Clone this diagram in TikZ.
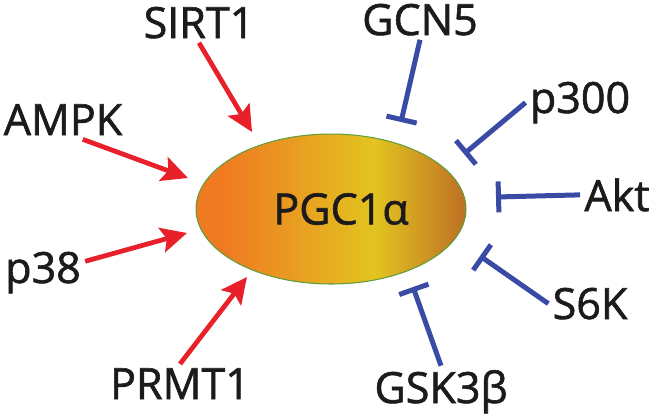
\documentclass[tikz,border=0pt]{standalone}
\usepackage{fontspec}
\setmainfont{Open Sans}
\newfontfamily\lblfont{Open Sans}[FakeBold=1.4]
\usetikzlibrary{arrows.meta,shapes.geometric}

\definecolor{actred}{HTML}{E8202A}
\definecolor{inhblue}{HTML}{3A4BA6}
\definecolor{pgcorange}{HTML}{EF7A22}
\definecolor{pgcyellow}{HTML}{E2C41F}
\definecolor{pgcbrown}{HTML}{BD7024}
\definecolor{pgcgreen}{HTML}{5E9E3C}
\definecolor{labelink}{HTML}{1C1A1A}

\pgfdeclarehorizontalshading{pgcshade}{100bp}{color(0bp)=(pgcorange); color(30bp)=(pgcorange); color(58bp)=(pgcyellow); color(75bp)=(pgcbrown); color(100bp)=(pgcbrown)}

\tikzset{
  lbl/.style={text=labelink, font=\lblfont\fontsize{24.5}{30}\selectfont, inner sep=0.08cm, anchor=base},
  act/.style={actred, line width=0.095cm, -{Stealth[length=0.52cm,width=0.5cm,inset=0.1cm]}},
  inh/.style={inhblue, line width=0.1cm, -{Bar[width=0.62cm]}},
}

\begin{document}
\begin{tikzpicture}[x=0.02cm,y=-0.02cm]
    \useasboundingbox (0,0) rectangle (652,417);
    \node[ellipse, draw=pgcgreen, line width=0.6pt, shading=pgcshade, minimum width=5.4cm, minimum height=3cm, inner sep=0pt, text=labelink, font=\lblfont\fontsize{24.5}{30}\selectfont] (pgc) at (331,209) {\hspace{0.4cm}PGC1α}; %中心

    % activators
    \node[lbl] (sirt1) at (199,38) {SIRT1};
    \node[lbl] (ampk) at (63,135) {AMPK};
    \node[lbl] (p38) at (43,283) {p38};
    \node[lbl] (prmt1) at (180,399) {PRMT1};
    % inhibitors
    \node[lbl] (gcn5) at (420,35) {GCN5};
    \node[lbl] (p300) at (580,113) {p300};
    \node[lbl] (akt) at (617,211) {Akt};
    \node[lbl] (s6k) at (590,319) {S6K};
    \node[lbl] (gsk3b) at (441,403) {GSK3β};

    \coordinate (t-sirt1) at (252,132);
    \coordinate (t-ampk) at (188,178);
    \coordinate (t-p38) at (187,233);
    \coordinate (t-prmt1) at (247,277);
    \draw[act] (sirt1.south) -- (t-sirt1);
    \draw[act] (ampk.-45) -- (t-ampk);
    \draw[act] (p38.15) -- (t-p38);
    \draw[act] (prmt1.north) -- (t-prmt1);

    \coordinate (t-gcn5) at (401,122);
    \coordinate (t-p300) at (464,154);
    \coordinate (t-akt) at (496,197);
    \coordinate (t-s6k) at (480,256);
    \coordinate (t-gsk3b) at (413,287);
    \draw[inh] (gcn5.south) -- (t-gcn5);
    \draw[inh] (p300.west) -- (t-p300);
    \draw[inh] (akt.west) -- (t-akt);
    \draw[inh] (s6k.west) -- (t-s6k);
    \draw[inh] (gsk3b.north) -- (t-gsk3b);
\end{tikzpicture}
\end{document}
